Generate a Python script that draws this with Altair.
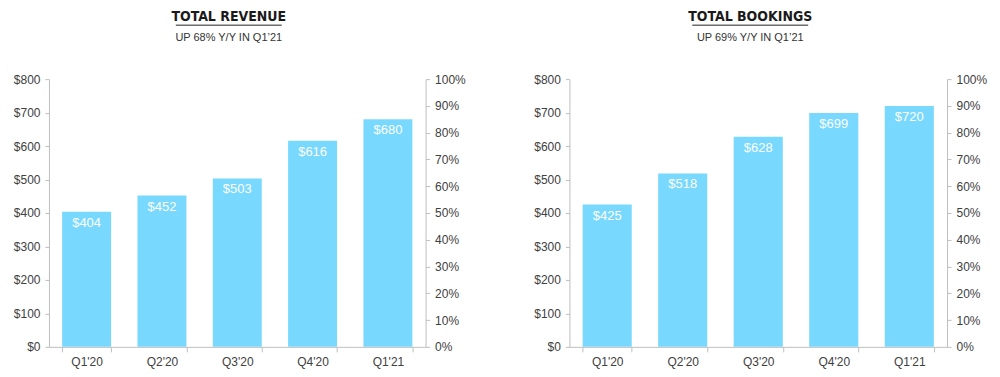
import altair as alt
import pandas as pd

quarters = ["Q1'20", "Q2'20", "Q3'20", "Q4'20", "Q1'21"]
revenue = [404, 452, 503, 616, 680]
bookings = [425, 518, 628, 699, 720]
titles = ["TOTAL REVENUE", "TOTAL BOOKINGS"]
subtitles = ["UP 68% Y/Y IN Q1\u201921", "UP 69% Y/Y IN Q1\u201921"]

BAR = "#78D8FD"
AXIS = "#bfbfbf"
LABEL = "#404040"
FONT = "Liberation Sans"
TFONT = "DejaVu Sans Condensed"


def panel(values, title, subtitle, w, h, cx, ul):
    df = pd.DataFrame({"q": quarters, "v": values, "lbl": ["$%d" % v for v in values]})
    x = alt.X("q:N", sort=quarters, title=None,
              scale=alt.Scale(paddingInner=0.35, paddingOuter=0.175),
              axis=alt.Axis(labelAngle=0, tickBand="extent", domainColor=AXIS, tickColor=AXIS,
                            tickSize=5, labelColor=LABEL, labelFont=FONT, labelFontSize=12,
                            labelPadding=5))
    y = alt.Y("v:Q", title=None,
              scale=alt.Scale(domain=[0, 800], nice=False),
              axis=alt.Axis(values=list(range(0, 801, 100)), labelExpr="'$' + datum.value",
                            labelOverlap=False,
                            domainColor=AXIS, tickColor=AXIS, tickSize=4, grid=False,
                            labelColor=LABEL, labelFont=FONT, labelFontSize=12, labelPadding=5))
    base = alt.Chart(df)
    bars = base.mark_bar(color=BAR).encode(x=x, y=y)
    text = base.mark_text(color="white", font=FONT, fontSize=13, baseline="middle", dy=11).encode(
        x=x, y=y, text="lbl:N")
    left = alt.layer(bars, text)
    pct = pd.DataFrame({"p": [0.0, 1.0]})
    right = alt.Chart(pct).mark_point(opacity=0).encode(
        y=alt.Y("p:Q", title=None, scale=alt.Scale(domain=[0, 1], nice=False),
                axis=alt.Axis(orient="right", format=".0%", values=[i / 10 for i in range(11)],
                              labelOverlap=False,
                              domainColor=AXIS, tickColor=AXIS, tickSize=4, grid=False,
                              labelColor=LABEL, labelFont=FONT, labelFontSize=12, labelPadding=5)))
    tdf = pd.DataFrame({"t": [title], "s": [subtitle]})
    ttl = alt.Chart(tdf).mark_text(font=TFONT, fontSize=14, fontWeight="bold", color="#1a1a1a",
                                   baseline="middle", align="center").encode(
        x=alt.value(cx), y=alt.value(-62), text="t:N")
    sub = alt.Chart(tdf).mark_text(font=FONT, fontSize=11, color="#333333",
                                   baseline="middle", align="center").encode(
        x=alt.value(cx), y=alt.value(-41), text="s:N")
    underline = alt.Chart(tdf).mark_rule(color="#222", strokeWidth=1).encode(
        x=alt.value(ul[0]), x2=alt.value(ul[1]), y=alt.value(-54))
    spacer = alt.Chart(tdf).mark_rule(strokeOpacity=0, strokeWidth=1).encode(
        x=alt.value(cx), x2=alt.value(cx + 1), y=alt.value(-71))
    return alt.layer(left, right, ttl, sub, underline, spacer).resolve_scale(y="independent").properties(
        width=w, height=h)


c1 = panel(revenue, titles[0], subtitles[0], 377, 268, 180, (127, 233))
c2 = panel(bookings, titles[1], subtitles[1], 378, 268, 181, (123, 239))

chart = alt.hconcat(c1, c2, spacing=68).configure_view(stroke=None).properties(
    padding={"left": 5, "top": 0, "right": 5, "bottom": 5})

chart.save("out.html", embed_options={"renderer": "svg", "actions": False})
